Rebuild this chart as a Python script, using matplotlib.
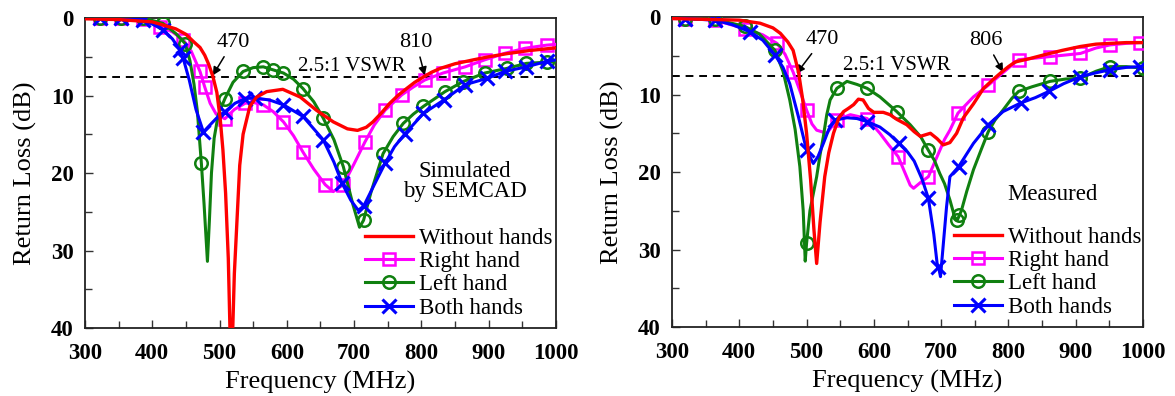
import numpy as np
import matplotlib
matplotlib.use("Agg")
import matplotlib.pyplot as plt

plt.rcParams['font.family'] = ['Liberation Serif', 'DejaVu Serif']
plt.rcParams['mathtext.fontset'] = 'stix'

# ---------------- simulated (left panel) ----------------
f_red_sim = [300, 350, 400, 416, 435, 450, 462, 471, 478, 484, 490, 496, 501, 505, 509, 513, 516, 519, 522, 526,
             530, 535, 545, 555, 570, 594, 620, 644, 669, 690, 705, 718, 728, 740, 753, 765, 778, 790, 803, 815,
             828, 850, 877, 900, 927, 960, 1000]
db_red_sim = [0.1, 0.2, 0.5, 0.9, 1.4, 2.1, 3.1, 3.8, 4.8, 6.0, 7.5, 9.6, 13.0, 17.0, 22.6, 31, 42, 42, 33, 26,
              19, 15, 11.4, 10.2, 9.5, 9.2, 10.2, 11.9, 13.4, 14.3, 14.5, 14.1, 13.4, 12.3, 11.0, 10.0, 9.1, 8.3, 7.6, 7.0,
              6.5, 5.9, 5.4, 5.0, 4.6, 4.2, 3.85]

f_right_sim = [300, 322, 354, 387, 412, 430, 446, 458, 471, 478, 486, 495, 508, 522, 538, 550, 565, 580, 595, 610,
               624, 640, 657, 669, 684, 700, 716, 730, 746, 771, 788, 805, 832, 865, 894, 924, 954, 986, 1000]
db_right_sim = [0, 0, 0, 0.1, 1.1, 1.8, 2.8, 4.3, 6.9, 8.9, 11.0, 12.4, 13.0, 11.8, 11.0, 10.9, 11.2, 12.1, 13.4, 15.2,
                17.3, 19.5, 21.5, 22.4, 21.5, 18.8, 16.0, 13.8, 11.9, 9.9, 8.9, 8.0, 7.1, 6.3, 5.4, 4.55, 3.9, 3.5, 3.4]
mk_right_sim = [322, 354, 387, 412, 446, 471, 478, 508, 538, 565, 595, 624, 657, 684, 716, 746, 771, 805, 832, 865,
                894, 924, 954, 986]

f_left_sim = [300, 323, 354, 387, 416, 435, 449, 456, 462, 467, 473, 477, 482, 485, 488, 492, 498, 508, 520, 535,
              550, 565, 580, 595, 610, 624, 640, 654, 670, 684, 698, 708, 714, 725, 743, 758, 773, 788, 803, 820,
              835, 862, 894, 927, 956, 986, 1000]
db_left_sim = [0, 0, 0, 0, 0.7, 2.0, 3.3, 5.5, 8.5, 12, 18.75, 24, 31.4, 26, 20, 15.5, 12.5, 10.4, 8.3, 6.9,
               6.4, 6.3, 6.7, 7.1, 7.9, 9.1, 10.8, 12.9, 15.7, 19.2, 24, 27.0, 26.1, 22.5, 17.5, 15.3, 13.6, 12.4, 11.4, 10.4,
               9.5, 8.2, 7.1, 6.5, 5.85, 5.7, 5.6]
mk_left_sim = [323, 354, 387, 416, 449, 473, 508, 535, 565, 580, 595, 624, 654, 684, 714, 743, 773, 803, 835, 862,
               894, 927, 956, 986]

f_both_sim = [300, 322, 354, 387, 416, 430, 441, 446, 455, 465, 476, 488, 498, 508, 523, 538, 553, 575, 595, 624,
              654, 670, 682, 695, 706, 714, 730, 746, 760, 775, 803, 833, 865, 897, 924, 956, 986, 1000]
db_both_sim = [0, 0, 0, 0.2, 1.5, 2.7, 4.1, 5.2, 8, 11.8, 14.7, 13.6, 12.7, 12.1, 11, 10.4, 10.3, 10.6, 11.2, 12.7,
               15.7, 18.6, 21.3, 23.5, 24.8, 24.3, 21.5, 18.75, 16.6, 15.0, 12.3, 10.6, 8.6, 7.8, 6.9, 6.3, 5.6, 5.4]
mk_both_sim = [322, 354, 387, 416, 441, 446, 476, 508, 538, 553, 595, 624, 654, 682, 714, 746, 775, 803, 833, 865,
               897, 924, 956, 986]

# ---------------- measured (right panel) ----------------
f_red_meas = [300, 350, 400, 431, 450, 461, 472, 480, 488, 494, 500, 506, 511, 515, 520, 527, 533, 540, 548, 555,
              562, 570, 577, 584, 592, 600, 614, 624, 634, 649, 660, 669, 684, 694, 703, 713, 723, 733, 748, 763,
              778, 790, 800, 810, 830, 852, 880, 907, 930, 951, 975, 1000]
db_red_meas = [0.2, 0.3, 0.4, 0.8, 1.4, 2.1, 3.2, 4.3, 7.1, 10.5, 15, 21, 27.5, 31.8, 26.5, 20.6, 17.5, 15.0, 13.0, 12.2,
               11.8, 11.3, 10.6, 10.7, 11.8, 12.3, 12.3, 12.6, 13.2, 13.9, 14.8, 15.4, 15.0, 15.7, 16.5, 16.2, 15.0, 13.0, 11.2, 9.2,
               8.0, 7.1, 6.4, 5.8, 5.4, 4.9, 4.3, 3.8, 3.5, 3.4, 3.3, 3.3]

f_right_meas = [300, 319, 364, 408, 435, 456, 468, 480, 490, 500, 508, 515, 530, 545, 565, 590, 609, 622, 636, 654,
                659, 670, 681, 694, 705, 713, 725, 748, 770, 793, 815, 840, 862, 885, 907, 930, 951, 975, 996, 1000]
db_right_meas = [0.2, 0.2, 0.4, 1.5, 2.3, 3.4, 4.8, 7.1, 9.5, 12.0, 13.8, 14.6, 15.0, 13.3, 12.6, 13.1, 15.0, 16.5, 18.0, 21.7,
                 22.1, 21.3, 20.6, 18.0, 15.8, 14.6, 12.4, 10.3, 8.8, 7.1, 5.5, 5.3, 5.1, 4.9, 4.7, 4.0, 3.6, 3.4, 3.3, 3.3]
mk_right_meas = [319, 364, 408, 456, 480, 500, 545, 590, 636, 681, 725, 770, 815, 862, 907, 951, 996]

f_left_meas = [300, 319, 364, 408, 430, 453, 465, 475, 483, 490, 495, 498, 500, 505, 515, 520, 525, 530, 535, 545,
               560, 575, 590, 609, 634, 654, 670, 681, 690, 698, 705, 713, 720, 724, 727, 730, 738, 748, 760, 770,
               780, 792, 805, 815, 835, 862, 885, 907, 930, 951, 975, 1000]
db_left_meas = [0.1, 0.2, 0.3, 1.2, 2.2, 4.3, 7.0, 10.7, 14.5, 19.3, 25, 31.5, 29.2, 25, 20.6, 17.8, 15.4, 12.6, 10.7, 9.2,
                8.3, 8.7, 9.2, 10.3, 12.2, 13.9, 15.5, 17.2, 18.5, 20.2, 21.5, 23.6, 25.8, 26.2, 25.6, 25.0, 22.5, 19.7, 17.0, 14.8,
                13.3, 12.0, 10.5, 9.6, 9.0, 8.3, 8.0, 7.9, 7.0, 6.4, 6.4, 6.6]
mk_left_meas = [319, 364, 408, 453, 500, 545, 590, 634, 681, 724, 727, 770, 815, 862, 907, 951, 1000]

f_both_meas = [300, 319, 364, 390, 416, 435, 453, 465, 475, 488, 500, 510, 517, 525, 533, 542, 560, 575, 590, 609,
               624, 637, 650, 660, 672, 681, 689, 694, 696, 699, 703, 708, 713, 726, 737, 748, 760, 770, 792, 818,
               840, 860, 882, 907, 930, 951, 975, 996, 1000]
db_both_meas = [0.1, 0.2, 0.4, 1.0, 1.9, 3.0, 4.9, 6.5, 8.6, 12.9, 17.2, 18.9, 18.0, 16.3, 14.5, 13.3, 13.0, 13.1, 13.5, 14.2,
                15.2, 16.3, 17.4, 18.6, 21.0, 23.4, 28.0, 31.8, 32.2, 33.5, 29.5, 24.5, 20.6, 19.3, 17.8, 16.3, 15.0, 13.9, 12.2, 11.1,
                10.4, 9.6, 8.6, 7.7, 7.2, 6.8, 6.5, 6.4, 6.4]
mk_both_meas = [319, 364, 416, 453, 500, 542, 590, 637, 681, 696, 726, 770, 818, 860, 907, 951, 996]

labels = ['Without hands', 'Right hand', 'Left hand', 'Both hands']
vswr_db = 7.6


def draw_panel(ax, red, right, left, both, leg_x):
    ax.plot(*right[:2], color='#ff00ff', lw=2.2, marker='s', ms=9, mfc='none', mew=1.8,
            markevery=list(np.isin(right[0], right[2])), label=labels[1], zorder=3)
    ax.plot(*left[:2], color='#108010', lw=2.2, marker='o', ms=9, mfc='none', mew=1.8,
            markevery=list(np.isin(left[0], left[2])), label=labels[2], zorder=4)
    ax.plot(*both[:2], color='#0000ff', lw=2.2, marker='x', ms=10, mew=2.2,
            markevery=list(np.isin(both[0], both[2])), label=labels[3], zorder=5)
    ax.plot(*red, color='#ff0000', lw=2.4, label=labels[0], zorder=6)
    ax.axhline(vswr_db, color='black', lw=1.4, ls=(0, (4, 3)), zorder=2)

    ax.set_xlim(300, 1000)
    ax.set_ylim(40, 0)
    ax.set_xticks(np.arange(300, 1001, 100))
    ax.set_xticks(np.arange(350, 1000, 100), minor=True)
    ax.set_yticks(np.arange(0, 41, 10))
    ax.set_yticks(np.arange(5, 40, 10), minor=True)
    ax.tick_params(which='both', direction='in', top=False, right=False, labelsize=16.5, width=1.0,
                   color='#333333')
    ax.tick_params(which='major', length=6)
    ax.tick_params(which='minor', length=5)
    ax.tick_params(axis='x', pad=11)
    ax.tick_params(axis='y', pad=8)
    for lab in ax.get_xticklabels() + ax.get_yticklabels():
        lab.set_fontweight('bold')
    for s in ax.spines.values():
        s.set_linewidth(1.3)
        s.set_color('#222222')
    ax.set_xlabel('Frequency (MHz)', fontsize=19, labelpad=5)
    ax.set_ylabel('Return Loss (dB)', fontsize=19, labelpad=10)

    h, l = ax.get_legend_handles_labels()
    order = [3, 0, 1, 2]
    ax.legend([h[i] for i in order], [l[i] for i in order], loc='upper left',
              bbox_to_anchor=(leg_x, 0.322), frameon=False, fontsize=16.5, handlelength=2.1,
              handletextpad=0.25, labelspacing=0.09, borderpad=0, borderaxespad=0)


fig = plt.figure(figsize=(11.75, 3.96), dpi=100)
ax1 = fig.add_axes([0.0723, 0.1717, 0.4009, 0.7828])
ax2 = fig.add_axes([0.5719, 0.1742, 0.4009, 0.7828])

draw_panel(ax1, (f_red_sim, db_red_sim), (f_right_sim, db_right_sim, mk_right_sim),
           (f_left_sim, db_left_sim, mk_left_sim), (f_both_sim, db_both_sim, mk_both_sim), 0.594)
draw_panel(ax2, (f_red_meas, db_red_meas), (f_right_meas, db_right_meas, mk_right_meas),
           (f_left_meas, db_left_meas, mk_left_meas), (f_both_meas, db_both_meas, mk_both_meas), 0.598)

arrow = dict(arrowstyle='-|>', color='black', lw=1.1, mutation_scale=12, shrinkA=2, shrinkB=0)

ax1.annotate('470', xy=(490, 7.4), xytext=(520, 3.1), fontsize=16, ha='center', va='center', arrowprops=arrow)
ax1.annotate('810', xy=(805, 7.4), xytext=(792, 3.1), fontsize=16, ha='center', va='center', arrowprops=arrow)
ax1.text(697, 6.3, '2.5:1 VSWR', fontsize=15, ha='center', va='center')
ax1.text(865, 21.1, 'Simulated\nby SEMCAD', fontsize=16.5, ha='center', va='center', linespacing=0.95)

ax2.annotate('470', xy=(485, 7.3), xytext=(524, 2.85), fontsize=16, ha='center', va='center', arrowprops=arrow)
ax2.annotate('806', xy=(792, 7.1), xytext=(766, 3.0), fontsize=16, ha='center', va='center', arrowprops=arrow)
ax2.text(634, 6.3, '2.5:1 VSWR', fontsize=15, ha='center', va='center')
ax2.text(865, 22.9, 'Measured', fontsize=16.5, ha='center', va='center')

fig.savefig('out.png', dpi=100)
